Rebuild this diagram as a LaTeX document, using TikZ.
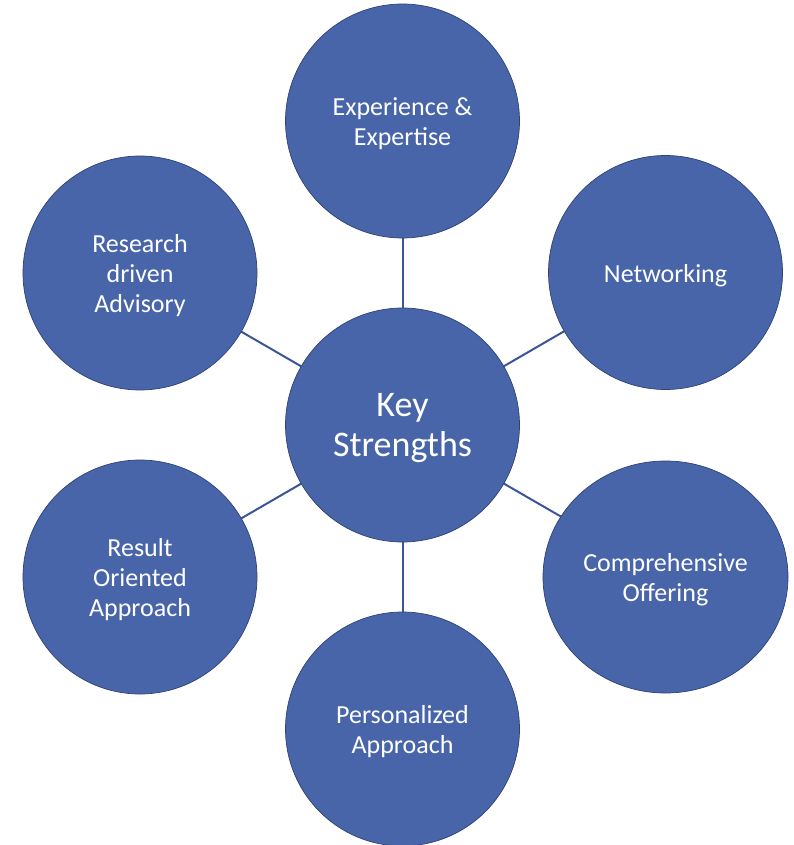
\documentclass[tikz,border=0pt]{standalone}
\usepackage{fontspec}
\setmainfont{Carlito}
\usetikzlibrary{shapes.geometric}
\definecolor{hubfill}{HTML}{4865AA}
\definecolor{hubedge}{HTML}{2E4275}
\definecolor{spoke}{HTML}{3A5598}
\begin{document}
\begin{tikzpicture}[x=1pt,y=-1pt,
  bubble/.style={circle, fill=hubfill, draw=hubedge, line width=0.7pt,
    minimum size=234pt, inner sep=0pt},
  oval/.style={ellipse, fill=hubfill, draw=hubedge, line width=0.7pt,
    minimum width=245pt, minimum height=232pt, inner sep=0pt},
  caption/.style={text=white, align=center, inner sep=0pt, yshift=-3pt,
    font=\fontsize{26}{30}\selectfont},
  bigcaption/.style={caption, font=\fontsize{36}{40}\selectfont},
  link/.style={draw=spoke, line width=2pt}]
\useasboundingbox (0,0) rectangle (794,845);
% spokes are drawn first so the bubbles cover their ends
\coordinate (cc) at (402.5,425);
\coordinate (tc) at (402.5,121);
\coordinate (nc) at (665.5,272.5);
\coordinate (oc) at (665.5,577);
\coordinate (pc) at (402.5,729);
\coordinate (rc) at (140,577);
\coordinate (ac) at (140,273);
\foreach \o in {tc,nc,oc,pc,rc,ac} \draw[link] (cc) -- (\o);
% bubbles
\node[bubble] (key) at (cc) {};
\node[bubble] (exp) at (tc) {};
\node[bubble] (net) at (nc) {};
\node[oval]   (off) at (oc) {};
\node[bubble] (per) at (pc) {};
\node[bubble] (res) at (rc) {};
\node[bubble] (adv) at (ac) {};
% captions
\node[bigcaption] (key-t) at (key.center) {Key\\Strengths};
\node[caption] (exp-t) at (exp.center) {Experience \&\\Expertise};
\node[caption] (net-t) at (net.center) {Networking};
\node[caption] (off-t) at (off.center) {Comprehensive\\Offering};
\node[caption] (per-t) at (per.center) {Personalized\\Approach};
\node[caption] (res-t) at (res.center) {Result\\Oriented\\Approach};
\node[caption] (adv-t) at (adv.center) {Research\\driven\\Advisory};
\end{tikzpicture}
\end{document}
